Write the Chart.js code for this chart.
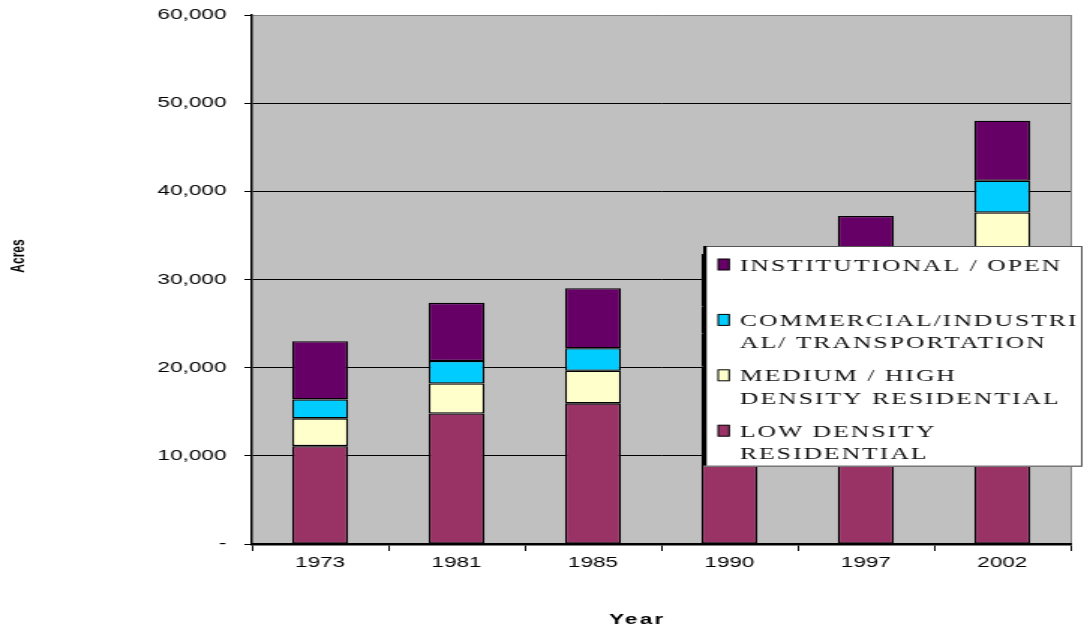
<!DOCTYPE html>
<html>
<head>
<meta charset="utf-8">
<script src="https://cdn.jsdelivr.net/npm/chart.js@4.4.1/dist/chart.umd.min.js"></script>
<style>
html,body{margin:0;padding:0;background:#fff;overflow:hidden}
#c{display:block}
</style>
</head>
<body>
<canvas id="c" width="723" height="633" style="width:1084px;height:633px"></canvas>
<script>
// ---- data (acres) ----
const years = ['1973', '1981', '1985', '1990', '1997', '2002'];
const lowDensity    = [11100, 14800, 15950, 20100, 24000, 32700];
const mediumHigh    = [3150, 3400, 3700, 3800, 4000, 4900];
const commercial    = [2150, 2550, 2550, 3000, 3200, 3600];
const institutional = [6600, 6600, 6800, 6000, 6000, 6800];
const yTicks = [0, 10000, 20000, 30000, 40000, 50000, 60000];
const seriesLines = [
  ['LOW DENSITY', 'RESIDENTIAL'],
  ['MEDIUM / HIGH', 'DENSITY RESIDENTIAL'],
  ['COMMERCIAL/INDUSTRI', 'AL/ TRANSPORTATION'],
  ['INSTITUTIONAL / OPEN']
];
const xTitle = 'Year';
const yTitle = 'Acres';

const SANS = "Arial, 'Liberation Sans', sans-serif";
const SERIF = "'Times New Roman', 'Liberation Serif', serif";
const colors = ['#993366', '#FFFFCC', '#00CCFF', '#660066'];
const seriesData = [lowDensity, mediumHigh, commercial, institutional];

const datasets = seriesData.map((d, i) => ({
  label: seriesLines[i].join(' '),
  legendLines: seriesLines[i],
  data: d,
  backgroundColor: colors[i],
  borderColor: '#000',
  borderWidth: 1.3,
  borderSkipped: false,
  barPercentage: 0.41,
  categoryPercentage: 1.0
}));

const plotBg = {
  id: 'plotBg',
  beforeDraw(chart) {
    const {ctx, chartArea: a} = chart;
    ctx.save();
    ctx.fillStyle = '#C0C0C0';
    ctx.fillRect(a.left, a.top, a.right - a.left, a.bottom - a.top);
    ctx.strokeStyle = '#808080';
    ctx.lineWidth = 1;
    ctx.beginPath();
    ctx.moveTo(a.right + 0.5, a.top);
    ctx.lineTo(a.right + 0.5, a.bottom);
    ctx.stroke();
    ctx.restore();
  }
};

const titles = {
  id: 'titles',
  afterDraw(chart) {
    const ctx = chart.ctx;
    ctx.save();
    ctx.fillStyle = '#000';
    ctx.textAlign = 'center';
    ctx.textBaseline = 'middle';
    ctx.font = 'bold 15px ' + SANS;
    ctx.letterSpacing = '1.5px';
    ctx.fillText(xTitle, 425, 620);
    ctx.letterSpacing = '0px';
    ctx.translate(12.7, 256);
    ctx.rotate(-Math.PI / 2);
    ctx.font = 'bold 12px ' + SANS;
    ctx.fillText(yTitle, 0, 0);
    ctx.restore();
  }
};

const boxLegend = {
  id: 'boxLegend',
  afterDraw(chart) {
    const ctx = chart.ctx;
    const L = 469, R = 722, T = 246, B = 467;
    ctx.save();
    ctx.fillStyle = '#fff';
    ctx.fillRect(L, T, R - L, B - T);
    ctx.strokeStyle = '#555';
    ctx.lineWidth = 1;
    ctx.strokeRect(L + 0.5, T + 0.5, R - L - 1, B - T - 1);
    ctx.fillStyle = '#000';
    ctx.fillRect(L, T, 2.3, B - T);
    ctx.fillStyle = '#777';
    ctx.fillRect(L, B - 1.5, R - L, 1.5);
    const ds = chart.data.datasets;
    ctx.font = '17px ' + SERIF;
    ctx.textAlign = 'left';
    ctx.textBaseline = 'alphabetic';
    for (let k = 0; k < ds.length; k++) {
      const d = ds[ds.length - 1 - k];
      const base = 270.5 + k * 55.4;
      ctx.fillStyle = d.backgroundColor;
      ctx.fillRect(479, base - 11.5, 7.3, 11);
      ctx.strokeStyle = '#000';
      ctx.lineWidth = 1;
      ctx.strokeRect(479, base - 11.5, 7.3, 11);
      ctx.fillStyle = '#111';
      ctx.letterSpacing = '1.4px';
      d.legendLines.forEach((line, j) => {
        ctx.fillText(line, 493.5, base + j * 22.3);
      });
      ctx.letterSpacing = '0px';
    }
    ctx.restore();
  }
};

new Chart(document.getElementById('c'), {
  type: 'bar',
  data: { labels: years, datasets },
  options: {
    responsive: false,
    devicePixelRatio: 1,
    animation: false,
    layout: { padding: { top: 15, right: 9, left: 0, bottom: 0 } },
    plugins: { legend: { display: false }, tooltip: { enabled: false }, title: { display: false } },
    scales: {
      x: {
        stacked: true,
        afterFit(s) { s.height = 89; s.paddingLeft = 0; s.paddingRight = 0; },
        grid: { offset: true, drawOnChartArea: false, drawTicks: true, tickLength: 7, color: '#000', lineWidth: 1 },
        border: { color: '#000', width: 2.5 },
        ticks: { font: { family: SANS, size: 15 }, color: '#000', padding: 3, maxRotation: 0 }
      },
      y: {
        stacked: true,
        min: 0,
        max: 60000,
        afterFit(s) { s.width = 168; s.paddingTop = 0; s.paddingBottom = 0; },
        afterBuildTicks(s) { s.ticks = yTicks.map(v => ({ value: v })); },
        grid: {
          color: c => (c.tick && c.tick.value === 60000) ? '#808080' : '#000',
          tickColor: '#000',
          tickLength: 5,
          lineWidth: 1
        },
        border: { color: '#000', width: 1.5 },
        ticks: {
          font: { family: SANS, size: 15 },
          color: '#000',
          padding: 12,
          callback: v => v === 0 ? '-' : v.toLocaleString('en-US')
        }
      }
    }
  },
  plugins: [plotBg, titles, boxLegend]
});
</script>
</body>
</html>
